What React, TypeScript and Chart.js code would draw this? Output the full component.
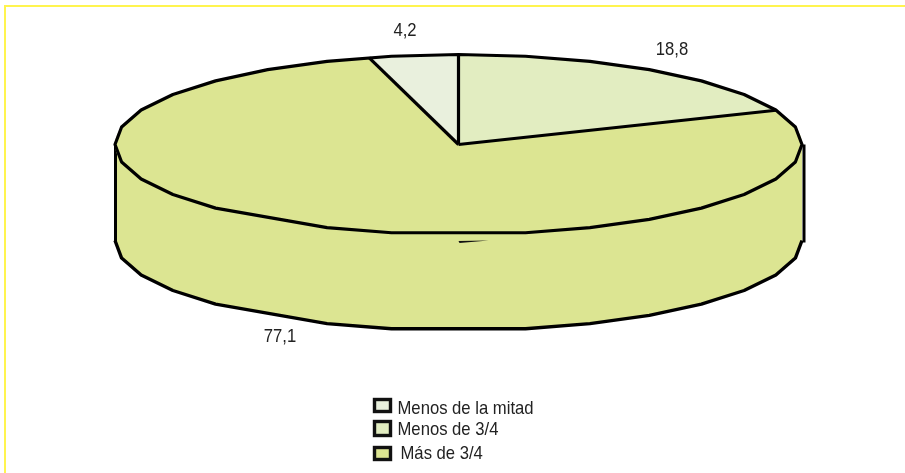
import React, { useEffect, useRef } from "react";
import { Chart, registerables } from "chart.js";

Chart.register(...registerables);

const categories = ["Menos de 3/4", "Más de 3/4", "Menos de la mitad"];
const values = [18.8, 77.1, 4.2];
const valueLabels = ["18,8", "77,1", "4,2"];
const sliceColors = ["#E2EDC1", "#DCE592", "#E9F0DD"];

const CX = 458.5, CY = 144.5, RX = 343.5, RY = 90, DEPTH = 96;
const STEP = Math.PI / 16;
const SKIPPED = [8, 11];
const TEXT = "#222222";
const FONT = '18.5px "Liberation Sans"';
const TEXT_SQUEEZE = 0.9;
const labelPos = [[672, 50], [280, 337], [405, 31]];
const legendRows = [
  { i: 2, box: [374.5, 399.5, 16, 12], tx: 397.5, by: 414 },
  { i: 0, box: [374.5, 421.5, 16, 14], tx: 397.5, by: 435 },
  { i: 1, box: [374.5, 447.5, 16, 12], tx: 400.5, by: 459 },
];

const pt = (a: number, dy = 0): [number, number] => [CX + RX * Math.cos(a), CY + RY * Math.sin(a) + dy];

function rimPath(ctx: CanvasRenderingContext2D, from: number, to: number, dy: number) {
  const first = pt(from, dy);
  ctx.moveTo(first[0], first[1]);
  const k0 = Math.floor(from / STEP + 1e-6) + 1;
  for (let k = k0; k * STEP < to - 1e-6; k++) {
    if (SKIPPED.includes(k)) continue;
    const p = pt(k * STEP, dy);
    ctx.lineTo(p[0], p[1]);
  }
  const last = pt(to, dy);
  ctx.lineTo(last[0], last[1]);
}

function squeezedText(ctx: CanvasRenderingContext2D, t: string, x: number, y: number) {
  ctx.save();
  ctx.translate(x, y);
  ctx.scale(TEXT_SQUEEZE, 1);
  ctx.fillText(t, 0, 0);
  ctx.restore();
}

const pie3d = {
  id: "pie3d",
  beforeDraw(chart: any) {
    const { ctx } = chart;
    ctx.save();
    ctx.fillStyle = "#ffffff";
    ctx.fillRect(0, 0, 905, 473);
    ctx.fillStyle = "#FFF44F";
    ctx.fillRect(4, 5, 901, 2);
    ctx.fillRect(4, 5, 2, 468);
    ctx.restore();
  },
  beforeDatasetsDraw(chart: any) {
    const { ctx } = chart;
    const arcs = chart.getDatasetMeta(0).data;
    ctx.save();
    // side wall: front half of every slice
    arcs.forEach((arc: any, i: number) => {
      const s = Math.max(arc.startAngle, 0);
      const e = Math.min(arc.endAngle, Math.PI);
      if (e <= s) return;
      ctx.beginPath();
      rimPath(ctx, s, e, 0);
      ctx.lineTo(...pt(e, DEPTH));
      for (let k = Math.ceil(e / STEP) - 1; k * STEP > s; k--) {
        if (!SKIPPED.includes(k)) ctx.lineTo(...pt(k * STEP, DEPTH));
      }
      ctx.lineTo(...pt(s, DEPTH));
      ctx.closePath();
      ctx.fillStyle = sliceColors[i];
      ctx.fill();
    });
    ctx.strokeStyle = "#000";
    ctx.lineJoin = "round";
    ctx.lineWidth = 3.4;
    ctx.beginPath();
    rimPath(ctx, 0, Math.PI, DEPTH);
    ctx.stroke();
    ctx.lineWidth = 3;
    ctx.beginPath();
    ctx.moveTo(CX - RX + 0.5, CY);
    ctx.lineTo(CX - RX + 0.5, CY + DEPTH + 1);
    ctx.moveTo(CX + RX + 2, CY);
    ctx.lineTo(CX + RX + 2, CY + DEPTH + 2);
    ctx.stroke();
    // hidden wedge edge showing through under the rim
    ctx.fillStyle = "#111";
    ctx.beginPath();
    ctx.moveTo(CX, CY + DEPTH + 0.5);
    ctx.lineTo(CX + 30, CY + DEPTH);
    ctx.lineTo(CX + 1, CY + DEPTH + 2.5);
    ctx.closePath();
    ctx.fill();
    ctx.restore();
    // the native arcs are squashed into the top ellipse
    const a0 = arcs[0];
    ctx.save();
    ctx.translate(CX, CY);
    ctx.scale(RX / a0.outerRadius, RY / a0.outerRadius);
    ctx.translate(-a0.x, -a0.y);
  },
  afterDatasetsDraw(chart: any) {
    const { ctx } = chart;
    ctx.restore();
    const arcs = chart.getDatasetMeta(0).data;
    ctx.save();
    ctx.strokeStyle = "#000";
    ctx.lineJoin = "round";
    ctx.lineWidth = 3.2;
    ctx.beginPath();
    rimPath(ctx, -Math.PI, Math.PI, 0);
    ctx.closePath();
    ctx.stroke();
    arcs.forEach((arc: any) => {
      ctx.beginPath();
      ctx.moveTo(CX, CY);
      ctx.lineTo(...pt(arc.startAngle));
      ctx.stroke();
    });
    ctx.restore();
  },
  afterDraw(chart: any) {
    const { ctx } = chart;
    ctx.save();
    ctx.font = FONT;
    ctx.fillStyle = TEXT;
    ctx.textAlign = "center";
    ctx.textBaseline = "middle";
    valueLabels.forEach((t, i) => squeezedText(ctx, t, labelPos[i][0], labelPos[i][1]));
    ctx.textAlign = "left";
    ctx.textBaseline = "alphabetic";
    legendRows.forEach((r) => {
      const [x, y, w, h] = r.box;
      ctx.fillStyle = sliceColors[r.i];
      ctx.fillRect(x, y, w, h);
      ctx.strokeStyle = "#111";
      ctx.lineWidth = 3.4;
      ctx.strokeRect(x, y, w, h);
      ctx.fillStyle = TEXT;
      squeezedText(ctx, chart.data.labels[r.i], r.tx, r.by);
    });
    ctx.restore();
  },
};

export default function App() {
  const ref = useRef<HTMLCanvasElement>(null);
  useEffect(() => {
    document.body.style.margin = "0";
    const chart = new Chart(ref.current!, {
      type: "pie",
      data: {
        labels: categories,
        datasets: [{ data: values, backgroundColor: sliceColors, borderWidth: 0 }],
      },
      options: {
        animation: false,
        responsive: false,
        plugins: { legend: { display: false }, tooltip: { enabled: false } },
      },
      plugins: [pie3d],
    } as any);
    return () => chart.destroy();
  }, []);
  return <canvas ref={ref} width={905} height={473} style={{ display: "block" }} />;
}
